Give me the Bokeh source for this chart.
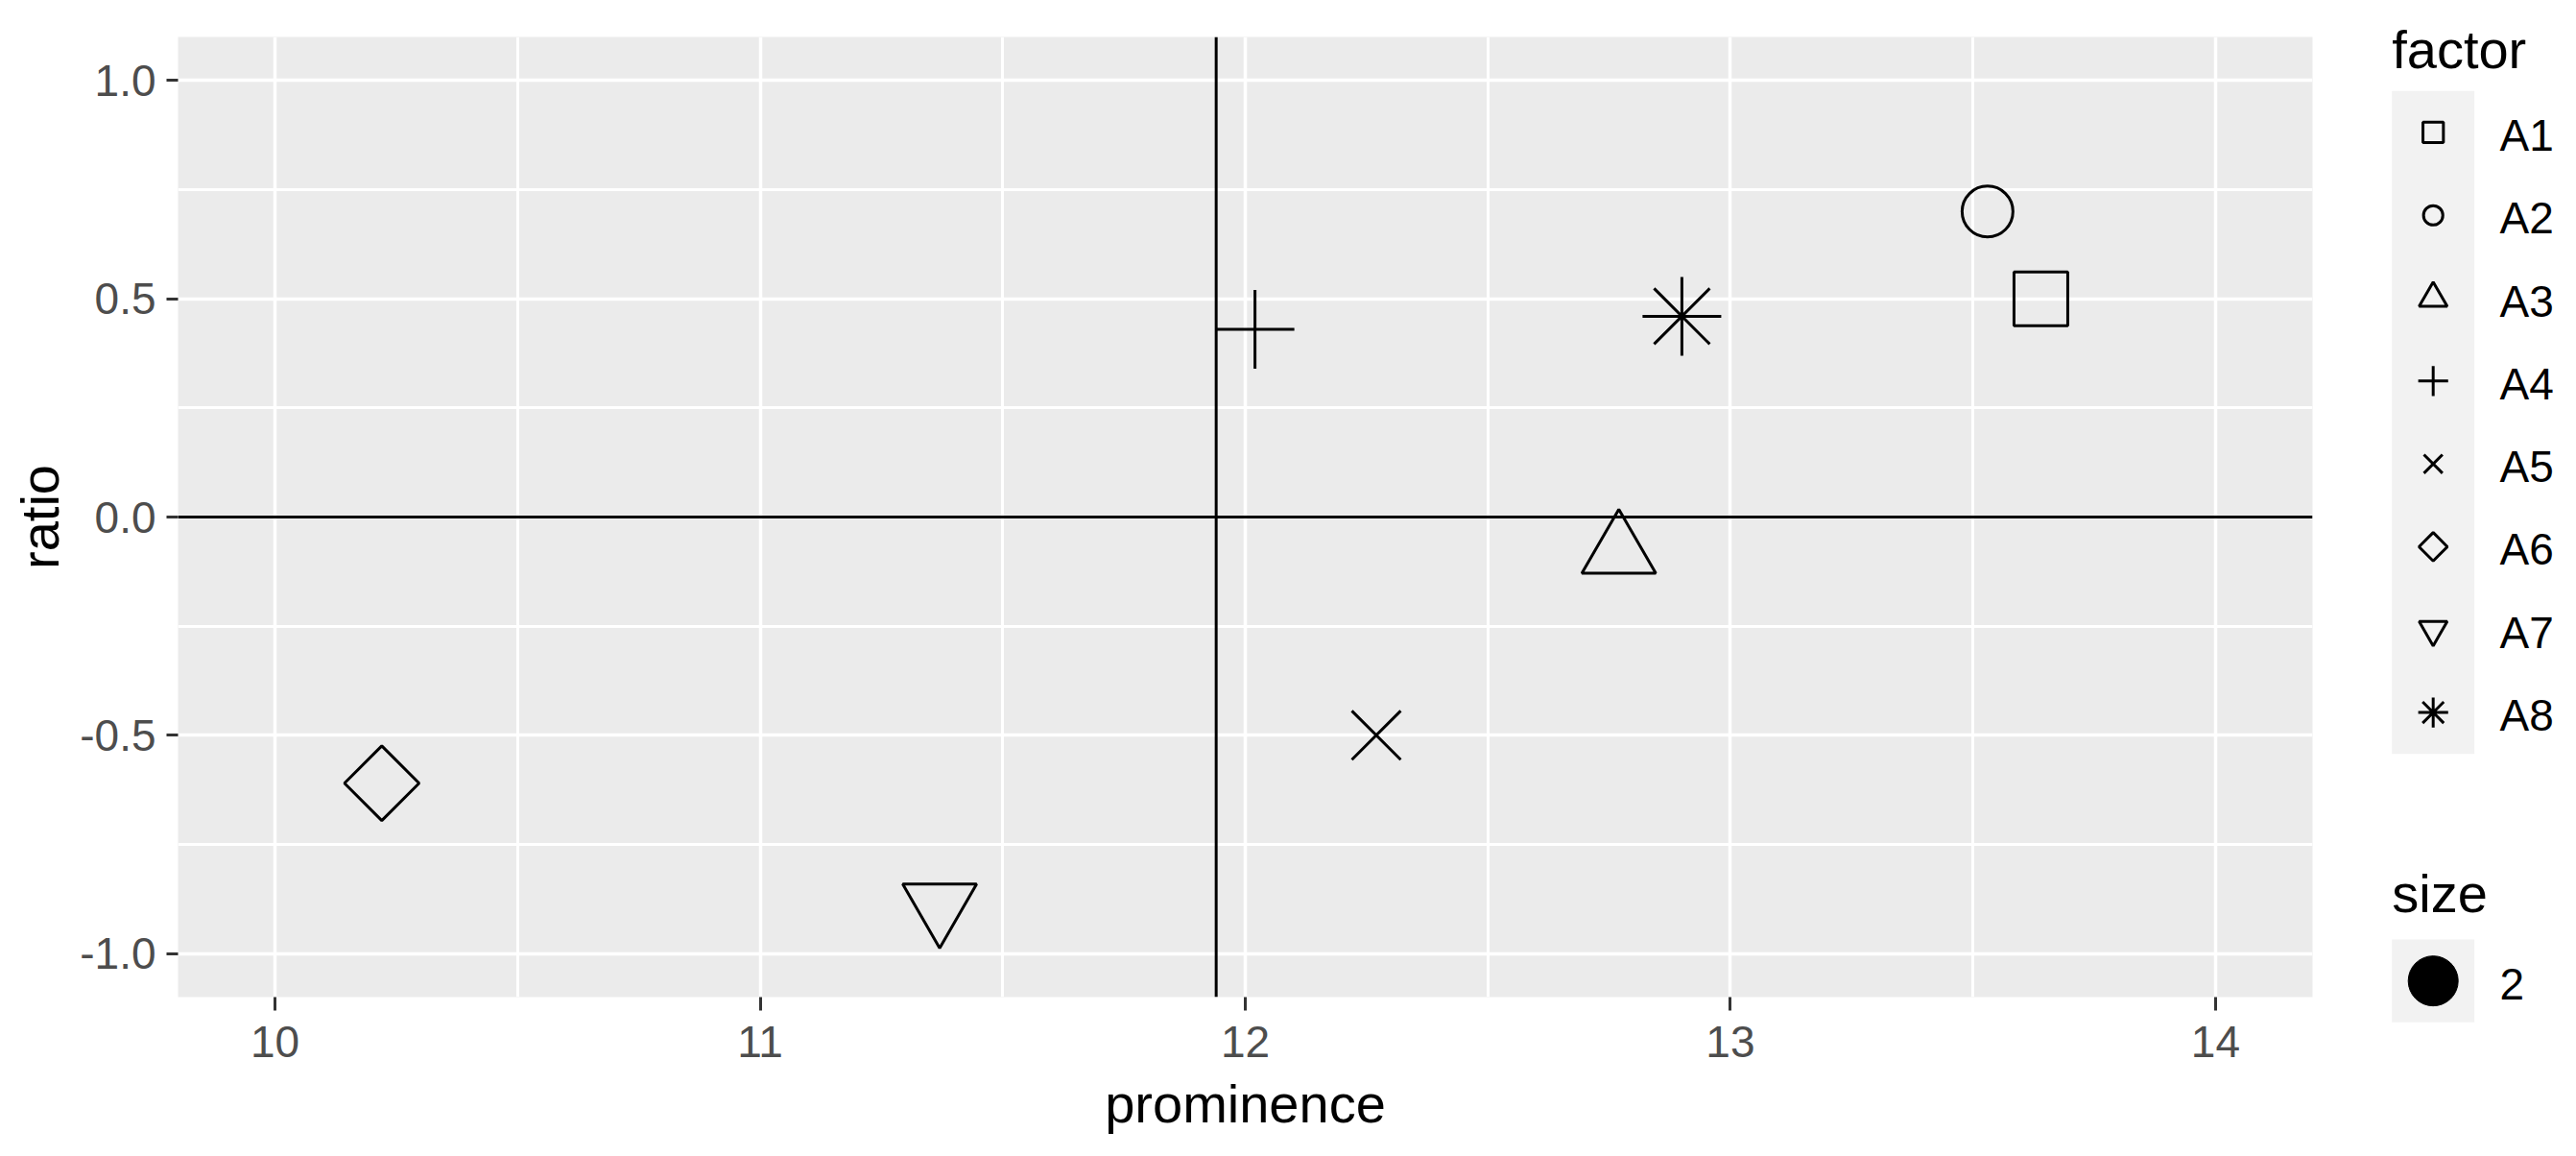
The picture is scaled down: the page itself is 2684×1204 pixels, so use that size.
import math
from bokeh.plotting import figure
from bokeh.models import ColumnDataSource, Range1d, FixedTicker, Span
from bokeh.layouts import row
from bokeh.embed import file_html
from bokeh.resources import INLINE
from bokeh.core.properties import value

# ---------------- data ----------------
factors = ["A1", "A2", "A3", "A4", "A5", "A6", "A7", "A8"]
prominence = [13.64, 13.53, 12.77, 12.02, 12.27, 10.22, 11.37, 12.90]
ratio = [0.50, 0.70, -0.08, 0.43, -0.50, -0.61, -0.89, 0.46]
vline_x = 11.94
hline_y = 0.0
x_ticks = [10, 11, 12, 13, 14]
x_tick_labels = ["10", "11", "12", "13", "14"]
x_minor = [10.5, 11.5, 12.5, 13.5]
y_ticks = [-1.0, -0.5, 0.0, 0.5, 1.0]
y_tick_labels = ["-1.0", "-0.5", "0.0", "0.5", "1.0"]
y_minor = [-0.75, -0.25, 0.25, 0.75]
size_levels = ["2"]

# ---------------- styles ----------------
FONT = "Liberation Sans"
shape_style = {  # marker, size(px), angle
    "A1": ("square", 56, 0.0),
    "A2": ("circle", 53, 0.0),
    "A3": ("triangle", 77, 0.0),
    "A4": ("cross", 82, 0.0),
    "A5": ("x", 72, 0.0),
    "A6": ("square", 55, math.pi / 4),
    "A7": ("inverted_triangle", 77, 0.0),
    "A8": ("asterisk", 82, 0.0),
}
LEGEND_SCALE = 0.38

src = ColumnDataSource(dict(
    x=prominence, y=ratio, f=factors,
    marker=[shape_style[f][0] for f in factors],
    size=[shape_style[f][1] for f in factors],
    angle=[shape_style[f][2] for f in factors],
))

# ---------------- main plot ----------------
MAIN_W, FIG_H = 2459, 1200
p = figure(width=MAIN_W, height=FIG_H,
           x_range=Range1d(9.8, 14.2), y_range=Range1d(-1.1, 1.1),
           output_backend="svg", toolbar_location=None,
           min_border_left=185, min_border_right=MAIN_W - 185 - 2224,
           min_border_top=38, min_border_bottom=FIG_H - 38 - 1000,
           background_fill_color="#EBEBEB", border_fill_color="white")
p.outline_line_color = None
p.frame_align = False

p.xaxis.ticker = FixedTicker(ticks=x_ticks, minor_ticks=x_minor)
p.yaxis.ticker = FixedTicker(ticks=y_ticks, minor_ticks=y_minor)
p.xaxis.major_label_overrides = {t: l for t, l in zip(x_ticks, x_tick_labels)}
p.yaxis.major_label_overrides = {t: l for t, l in zip(y_ticks, y_tick_labels)}

for g in (p.xgrid[0], p.ygrid[0]):
    g.grid_line_color = "white"
    g.grid_line_width = 3.5
    g.minor_grid_line_color = "white"
    g.minor_grid_line_width = 3

for ax in (p.xaxis[0], p.yaxis[0]):
    ax.axis_line_color = None
    ax.major_tick_line_color = "#333333"
    ax.major_tick_line_width = 3
    ax.major_tick_in = 0
    ax.minor_tick_line_color = None
    ax.major_label_text_font = FONT
    ax.major_label_text_font_size = "46px"
    ax.major_label_text_color = "#4D4D4D"
    ax.axis_label_text_font = FONT
    ax.axis_label_text_font_size = "56px"
    ax.axis_label_text_font_style = "normal"
    ax.axis_label_text_color = "black"

p.xaxis.major_tick_out = 14
p.yaxis.major_tick_out = 12
p.xaxis.major_label_standoff = 16
p.yaxis.major_label_standoff = 11
p.xaxis.axis_label_standoff = 14
p.yaxis.axis_label_standoff = 7
p.xaxis.axis_label = "prominence"
p.yaxis.axis_label = "ratio"

p.add_layout(Span(location=hline_y, dimension="width", line_color="black", line_width=3))
p.add_layout(Span(location=vline_x, dimension="height", line_color="black", line_width=3))

p.scatter(x="x", y="y", marker="marker", size="size", angle="angle", source=src,
          fill_color=None, line_color="black", line_width=3)

# ---------------- legend (separate panel, page-pixel coordinates) ----------------
LX0, LX1 = MAIN_W, MAIN_W + 217
LY0, LY1 = 0, FIG_H
lg = figure(width=LX1 - LX0, height=LY1 - LY0,
            x_range=Range1d(LX0, LX1), y_range=Range1d(LY1, LY0),
            output_backend="svg", toolbar_location=None, min_border=0,
            x_axis_type=None, y_axis_type=None, border_fill_color="white",
            background_fill_color="white")
lg.outline_line_color = None
lg.frame_align = False

leg_left = 2491.7
key_w = 86.0
key_h = 86.3
factor_top = 94.3
label_x = 2604
label_dy = 3
key_cx = leg_left + key_w / 2

lg.text(x=[leg_left], y=[51], text=["factor"], text_baseline="alphabetic",
        text_align="left", text_font=value(FONT), text_font_size="56px", text_color="black")
lg.quad(left=[leg_left], right=[leg_left + key_w], top=[factor_top],
        bottom=[factor_top + len(factors) * key_h], fill_color="#F2F2F2", line_color=None)
row_y = [factor_top + (i + 0.5) * key_h for i in range(len(factors))]
lsrc = ColumnDataSource(dict(
    x=[key_cx] * len(factors), y=row_y,
    marker=[shape_style[f][0] for f in factors],
    size=[shape_style[f][1] * LEGEND_SCALE for f in factors],
    angle=[shape_style[f][2] for f in factors],
))
lg.scatter(x="x", y="y", marker="marker", size="size", angle="angle", source=lsrc,
           fill_color=None, line_color="black", line_width=3)
lg.text(x=[label_x] * len(factors), y=[r + label_dy for r in row_y], text=factors,
        text_baseline="middle", text_align="left", text_font=value(FONT),
        text_font_size="46px", text_color="black")

size_title_y = 930
size_top = 978.0
lg.text(x=[leg_left], y=[size_title_y], text=["size"], text_baseline="alphabetic",
        text_align="left", text_font=value(FONT), text_font_size="56px", text_color="black")
lg.quad(left=[leg_left], right=[leg_left + key_w], top=[size_top],
        bottom=[size_top + len(size_levels) * key_h], fill_color="#F2F2F2", line_color=None)
srow_y = [size_top + (i + 0.5) * key_h for i in range(len(size_levels))]
lg.scatter(x=[key_cx] * len(size_levels), y=srow_y, marker="circle", size=52,
           fill_color="black", line_color="black")
lg.text(x=[label_x] * len(size_levels), y=[r + label_dy for r in srow_y], text=size_levels,
        text_baseline="middle", text_align="left", text_font=value(FONT),
        text_font_size="46px", text_color="black")

layout = row(p, lg)
open("out.html", "w").write(file_html(layout, INLINE))
